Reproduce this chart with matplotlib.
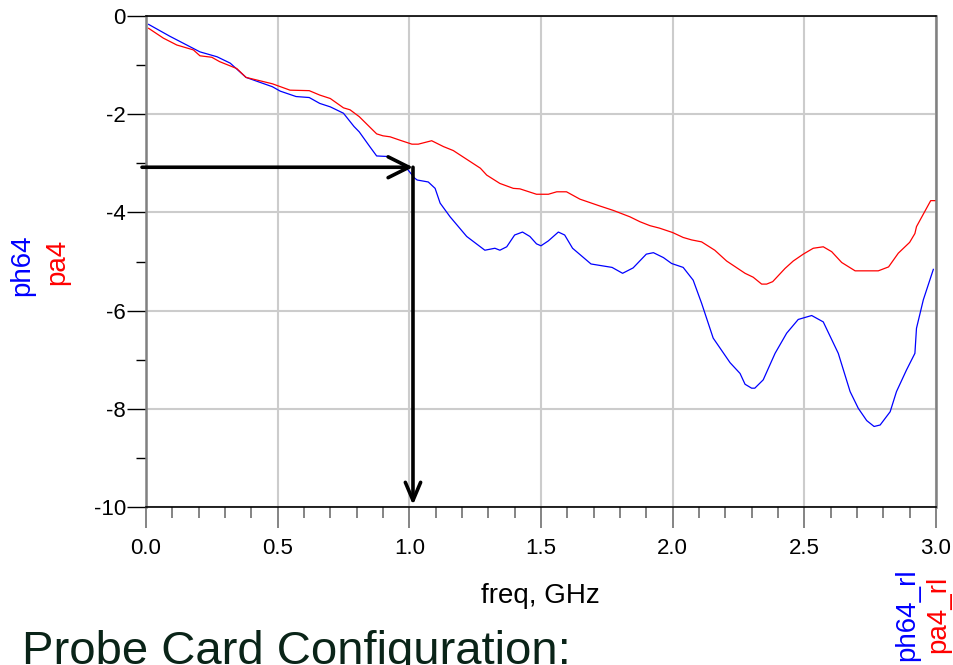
import matplotlib
matplotlib.use('Agg')
import matplotlib.pyplot as plt
from matplotlib.ticker import MultipleLocator

plt.rcParams['font.family'] = ['Liberation Sans', 'DejaVu Sans']

# ph64 return loss (blue)
ph64_f = [0.01, 0.09, 0.205, 0.27, 0.32, 0.38, 0.48, 0.51, 0.57, 0.62, 0.66, 0.70, 0.75, 0.79, 0.81,
          0.85, 0.876, 0.914, 0.96, 0.99, 1.02, 1.03, 1.072, 1.098, 1.117, 1.155, 1.218, 1.287, 1.325,
          1.344, 1.37, 1.40, 1.43, 1.458, 1.483, 1.50, 1.528, 1.566, 1.59, 1.62, 1.69, 1.724, 1.77,
          1.81, 1.85, 1.90, 1.927, 1.965, 1.996, 2.04, 2.078, 2.11, 2.154, 2.218, 2.256, 2.275, 2.30,
          2.312, 2.344, 2.389, 2.433, 2.477, 2.528, 2.572, 2.629, 2.674, 2.705, 2.737, 2.765, 2.788,
          2.826, 2.85, 2.888, 2.92, 2.926, 2.952, 2.99]
ph64_rl = [-0.17, -0.41, -0.73, -0.83, -0.96, -1.25, -1.44, -1.53, -1.64, -1.66, -1.78, -1.85, -1.98,
           -2.25, -2.36, -2.66, -2.85, -2.86, -2.98, -3.10, -3.30, -3.34, -3.38, -3.51, -3.81, -4.09,
           -4.49, -4.77, -4.73, -4.77, -4.70, -4.46, -4.40, -4.49, -4.64, -4.68, -4.58, -4.40, -4.46,
           -4.73, -5.05, -5.08, -5.12, -5.24, -5.13, -4.85, -4.82, -4.92, -5.04, -5.12, -5.38, -5.85,
           -6.56, -7.06, -7.28, -7.50, -7.58, -7.58, -7.41, -6.87, -6.46, -6.18, -6.10, -6.23, -6.87,
           -7.65, -7.99, -8.24, -8.36, -8.33, -8.06, -7.65, -7.21, -6.87, -6.36, -5.78, -5.16]

# pa4 return loss (red)
pa4_f = [0.01, 0.066, 0.117, 0.18, 0.205, 0.25, 0.28, 0.345, 0.38, 0.48, 0.547, 0.62, 0.66, 0.70,
         0.75, 0.775, 0.81, 0.876, 0.90, 0.927, 0.965, 1.01, 1.034, 1.085, 1.13, 1.167, 1.27, 1.294,
         1.344, 1.395, 1.42, 1.483, 1.528, 1.56, 1.597, 1.648, 1.724, 1.775, 1.838, 1.876, 1.914,
         1.95, 2.0, 2.04, 2.072, 2.11, 2.16, 2.205, 2.275, 2.306, 2.338, 2.357, 2.38, 2.427, 2.458,
         2.496, 2.534, 2.572, 2.604, 2.642, 2.693, 2.781, 2.82, 2.857, 2.90, 2.92, 2.926, 2.98, 3.0]
pa4_rl = [-0.25, -0.45, -0.59, -0.69, -0.81, -0.84, -0.93, -1.07, -1.25, -1.38, -1.51, -1.52, -1.61,
          -1.68, -1.87, -1.91, -2.05, -2.40, -2.44, -2.46, -2.53, -2.61, -2.61, -2.54, -2.66, -2.74,
          -3.10, -3.24, -3.41, -3.51, -3.52, -3.63, -3.63, -3.58, -3.58, -3.73, -3.87, -3.96, -4.09,
          -4.19, -4.27, -4.32, -4.41, -4.51, -4.56, -4.60, -4.77, -4.99, -5.24, -5.32, -5.46, -5.46,
          -5.41, -5.14, -4.99, -4.85, -4.73, -4.70, -4.80, -5.02, -5.19, -5.19, -5.11, -4.83, -4.61,
          -4.43, -4.29, -3.76, -3.76]

# marker arrows (start x, level, end y)
mark_x0 = -0.015
mark_f = 1.014
mark_y = -3.08
mark_y1 = -9.96

fig = plt.figure(figsize=(9.54, 6.65), dpi=100)
ax = fig.add_axes([0.153, 0.2376, 0.8281, 0.7383])

ax.plot(ph64_f, ph64_rl, color='#0000ff', lw=0.9)
ax.plot(pa4_f, pa4_rl, color='#ff0000', lw=0.9)

ax.set_xlim(0, 3)
ax.set_ylim(-10, 0)
ax.xaxis.set_major_locator(MultipleLocator(0.5))
ax.xaxis.set_minor_locator(MultipleLocator(0.1))
ax.yaxis.set_major_locator(MultipleLocator(2))
ax.yaxis.set_minor_locator(MultipleLocator(1))
ax.set_xticklabels([])
ax.set_xticks([0, 0.5, 1.0, 1.5, 2.0, 2.5, 3.0])
ax.set_xticklabels(['0.0', '0.5', '1.0', '1.5', '2.0', '2.5', '3.0'])
ax.set_yticks([0, -2, -4, -6, -8, -10])
ax.set_yticklabels(['0', '-2', '-4', '-6', '-8', '-10'])

ax.grid(True, which='major', color='#cccccc', lw=1.5)
ax.tick_params(axis='x', which='major', direction='out', length=15, width=1.2, color='#707070',
               pad=7, labelsize=16)
ax.tick_params(axis='x', which='minor', direction='out', length=8, width=1.2, color='#707070')
ax.tick_params(axis='y', which='major', direction='out', length=14, width=1, color='black',
               pad=0.5, labelsize=16)
ax.tick_params(axis='y', which='minor', direction='out', length=7, width=1, color='black')

for side in ['left', 'right']:
    ax.spines[side].set_color('#808080')
    ax.spines[side].set_linewidth(1.8)
for side in ['top', 'bottom']:
    ax.spines[side].set_color('black')
    ax.spines[side].set_linewidth(1.2)

# marker arrows
ax.annotate('', xy=(mark_f, mark_y), xytext=(mark_x0, mark_y), annotation_clip=False,
            arrowprops=dict(arrowstyle='->,head_length=1.5,head_width=0.75', lw=2.6,
                            color='black', shrinkA=0, shrinkB=0))
ax.annotate('', xy=(mark_f, mark_y1), xytext=(mark_f, mark_y), annotation_clip=False,
            arrowprops=dict(arrowstyle='->,head_length=1.3,head_width=0.55', lw=2.6,
                            color='black', shrinkA=0, shrinkB=0))

# axis labels
fig.text(22 / 954, 1 - 265 / 665, 'ph64', color='#0000ff', fontsize=20, rotation=90,
         ha='center', va='center')
fig.text(57 / 954, 1 - 262 / 665, 'pa4', color='#ff0000', fontsize=20, rotation=90,
         ha='center', va='center')
fig.text(540 / 954, 1 - 596 / 665, 'freq, GHz', color='black', fontsize=20,
         ha='center', va='center')
fig.text(907 / 954, 1 - 615 / 665, 'ph64_rl', color='#0000ff', fontsize=20, rotation=90,
         ha='center', va='center')
fig.text(938 / 954, 1 - 614 / 665, 'pa4_rl', color='#ff0000', fontsize=20, rotation=90,
         ha='center', va='center')

fig.text(22 / 954, 1 - 664 / 665, 'Probe Card Configuration:', color='#0a2418', fontsize=34,
         ha='left', va='baseline')

fig.savefig('out.png', dpi=100)
